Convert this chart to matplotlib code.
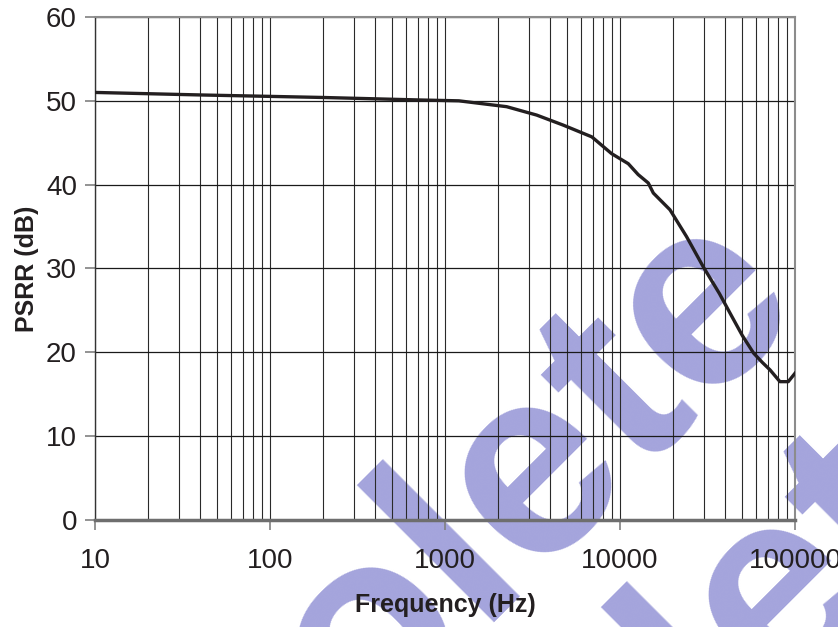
import matplotlib.pyplot as plt
import numpy as np
from matplotlib.ticker import FixedLocator, NullFormatter

# PSRR vs frequency
freq_hz = [10, 40, 200, 720, 1200, 2250, 3340, 4740, 6900, 8950, 11150, 12700,
           14500, 15500, 19300, 24000, 29900, 37000, 43500, 50000, 58000, 65000,
           72000, 82000, 91500, 100000]
psrr_db = [51.0, 50.7, 50.4, 50.1, 50.0, 49.3, 48.3, 47.1, 45.7, 43.7, 42.5, 41.2,
           40.2, 39.0, 37.0, 33.8, 30.2, 27.0, 24.3, 22.0, 19.9, 18.8,
           17.9, 16.5, 16.5, 17.5]
x_ticks = [10, 100, 1000, 10000, 100000]
x_ticklabels = ["10", "100", "1000", "10000", "100000"]
y_ticks = [0, 10, 20, 30, 40, 50, 60]

plt.rcParams['font.family'] = ['Liberation Sans', 'DejaVu Sans']

fig = plt.figure(figsize=(8.38, 6.27), dpi=100)
ax = fig.add_axes([0.1134, 0.1707, 0.8353, 0.8022])
ax.set_facecolor('none')

# watermark, drawn under everything
wm = dict(fontsize=193, fontweight='bold', color='#a4a4dc', rotation=45,
          rotation_mode='anchor', ha='center', va='baseline', zorder=-1)
fig.text(0.476, -0.126, "Obsolete", **wm)
fig.text(0.768, -0.322, "Obsolete", **wm)

ax.plot(freq_hz, psrr_db, color='#231f20', lw=2.4, zorder=3)

ax.set_xscale('log')
ax.set_xlim(10, 100000)
ax.set_ylim(0, 60)

minor = [m * 10 ** d for d in range(1, 5) for m in range(2, 10)]
ax.xaxis.set_major_locator(FixedLocator(x_ticks))
ax.xaxis.set_minor_locator(FixedLocator(minor))
ax.xaxis.set_minor_formatter(NullFormatter())
ax.set_xticks(x_ticks)
ax.set_xticklabels(x_ticklabels)
ax.set_yticks(y_ticks)

ax.grid(True, which='both', axis='x', color='#2a2a2a', lw=0.8)
ax.grid(True, which='major', axis='y', color='#1a1a1a', lw=0.9)

ax.tick_params(axis='both', which='major', labelsize=20, color='#808080',
               length=7, width=1.2, pad=6, labelcolor='#231f20')
ax.tick_params(axis='x', which='minor', length=0)
ax.tick_params(axis='x', pad=13)

for side in ['top', 'right']:
    ax.spines[side].set_color('#8c8c8c')
    ax.spines[side].set_linewidth(1.5)
ax.spines['left'].set_color('#333333')
ax.spines['left'].set_linewidth(1.0)
ax.spines['bottom'].set_color('#6e6e6e')
ax.spines['bottom'].set_linewidth(2.5)

ax.set_xlabel('Frequency (Hz)', fontsize=18, fontweight='bold', color='#231f20', labelpad=14)
ax.set_ylabel('PSRR (dB)', fontsize=18, fontweight='bold', color='#231f20', labelpad=5)

fig.savefig('out.png', dpi=100)
